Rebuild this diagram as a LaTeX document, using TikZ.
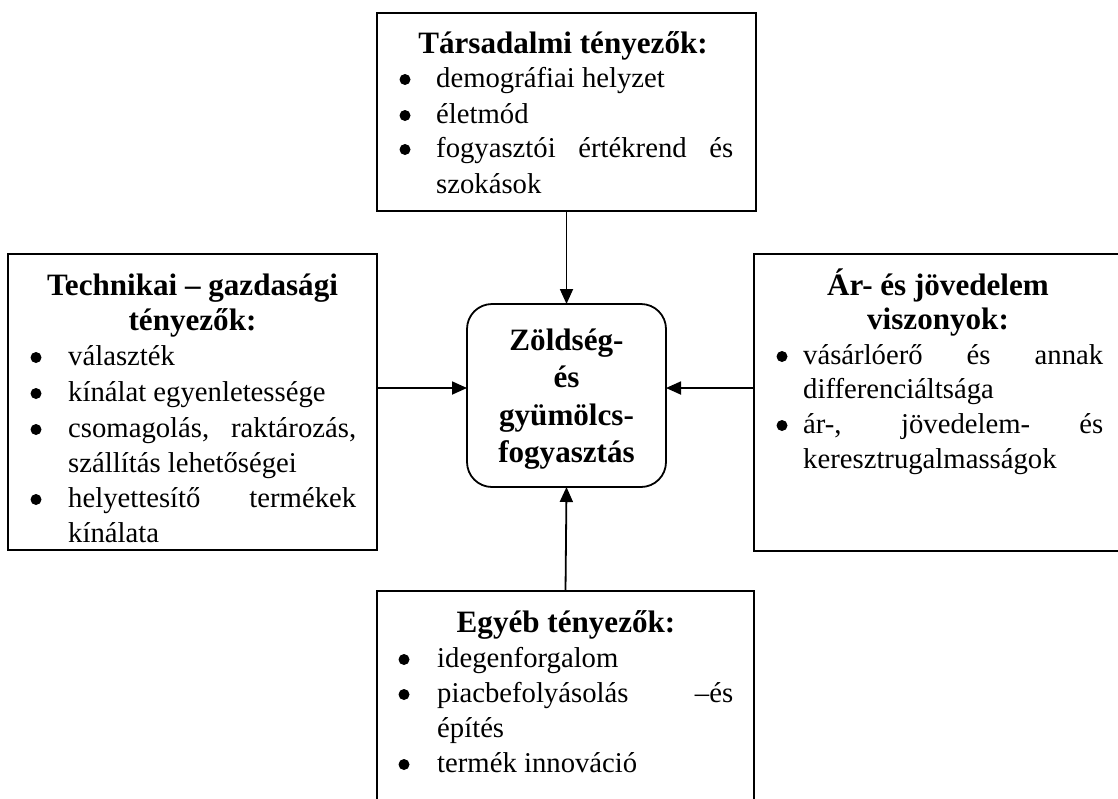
\documentclass[tikz,border=0pt]{standalone}
\usepackage{fontspec}
\setmainfont{Liberation Serif}
\usetikzlibrary{arrows.meta}
\newcommand{\bodyfnt}{\fontsize{28.7}{35}\selectfont}
\newcommand{\ttlfnt}{\fontsize{31.1}{35}\selectfont\bfseries}
\tikzset{
  box/.style={draw, line width=1.8pt, inner sep=0pt, outer sep=0pt},
  arr/.style={line width=1.8pt, -{Triangle[length=15pt,width=13pt]}},
  txt/.style={anchor=base west, inner sep=0pt, font=\bodyfnt},
  ttl/.style={anchor=base, inner sep=0pt, font=\ttlfnt},
  bul/.style={circle, fill=black, inner sep=0pt, minimum size=11pt, yshift=7.5pt},
}
\begin{document}
\begin{tikzpicture}[x=1pt, y=-1pt]
\useasboundingbox (0,0) rectangle (1118,798);
\clip (0,0) rectangle (1118,798);
% boxes
\node[box, minimum width=379pt, minimum height=198pt] (top) at (566.5,112) {};
\node[box, minimum width=369pt, minimum height=296pt] (left) at (192.5,402) {};
\node[box, minimum width=368pt, minimum height=297pt] (right) at (938,402.5) {};
\node[box, minimum width=377pt, minimum height=229pt] (bot) at (565.5,705.5) {};
\node[box, rounded corners=25pt, minimum width=199pt, minimum height=183pt] (ctr) at (566.5,395.5) {};
% arrows
\draw[arr] (top.south) -- (ctr.north);
\draw[arr] (bot.north) -- (ctr.south);
\draw[arr] (left.east |- 0,388) -- (ctr.west |- 0,388);
\draw[arr] (right.west |- 0,388) -- (ctr.east |- 0,388);
% top box text
\node[ttl] (t0) at (563,53) {Társadalmi tényezők:};
\node[bul] (tb1) at (405,87) {};
\node[bul] (tb2) at (405,123) {};
\node[bul] (tb3) at (405,157) {};
\node[txt] (t1) at (436,87) {demográfiai helyzet};
\node[txt] (t2) at (436,123) {életmód};
\node[txt] (t3) at (436,157) {\makebox[297pt][s]{fogyasztói értékrend és}};
\node[txt] (t4) at (436,193) {szokások};
% left box text
\node[ttl] (l0) at (192.5,295) {Technikai – gazdasági};
\node[ttl] (l00) at (192.5,330) {tényezők:};
\node[bul] (lb1) at (36,365) {};
\node[bul] (lb2) at (36,401) {};
\node[bul] (lb3) at (36,437) {};
\node[bul] (lb4) at (36,507) {};
\node[txt] (l1) at (68,365) {választék};
\node[txt] (l2) at (68,401) {kínálat egyenletessége};
\node[txt] (l3) at (68,437) {\makebox[288pt][s]{csomagolás, raktározás,}};
\node[txt] (l4) at (68,472) {szállítás lehetőségei};
\node[txt] (l5) at (68,507) {\makebox[288pt][s]{helyettesítő termékek}};
\node[txt] (l6) at (68,542) {kínálata};
% right box text
\node[ttl] (r0) at (938,295) {Ár- és jövedelem};
\node[ttl] (r00) at (938,329) {viszonyok:};
\node[bul] (rb1) at (782,364) {};
\node[bul] (rb2) at (782,433) {};
\node[txt] (r1) at (803,364) {\makebox[300pt][s]{vásárlóerő és annak}};
\node[txt] (r2) at (803,398) {differenciáltsága};
\node[txt] (r3) at (803,433) {\makebox[300pt][s]{ár-, jövedelem- és}};
\node[txt] (r4) at (803,468) {keresztrugalmasságok};
% bottom box text
\node[ttl] (b0) at (566,632) {Egyéb tényezők:};
\node[bul] (bb1) at (404,667) {};
\node[bul] (bb2) at (404,702) {};
\node[bul] (bb3) at (404,772) {};
\node[txt] (b1) at (437,667) {idegenforgalom};
\node[txt] (b2) at (437,702) {\makebox[296pt][s]{piacbefolyásolás –és}};
\node[txt] (b3) at (437,737) {építés};
\node[txt] (b4) at (437,772) {termék innováció};
% center text
\node[ttl] (c1) at (566.5,350) {Zöldség-};
\node[ttl] (c2) at (566.5,387) {és};
\node[ttl] (c3) at (566.5,425) {gyümölcs-};
\node[ttl] (c4) at (566.5,462) {fogyasztás};
\end{tikzpicture}
\end{document}
